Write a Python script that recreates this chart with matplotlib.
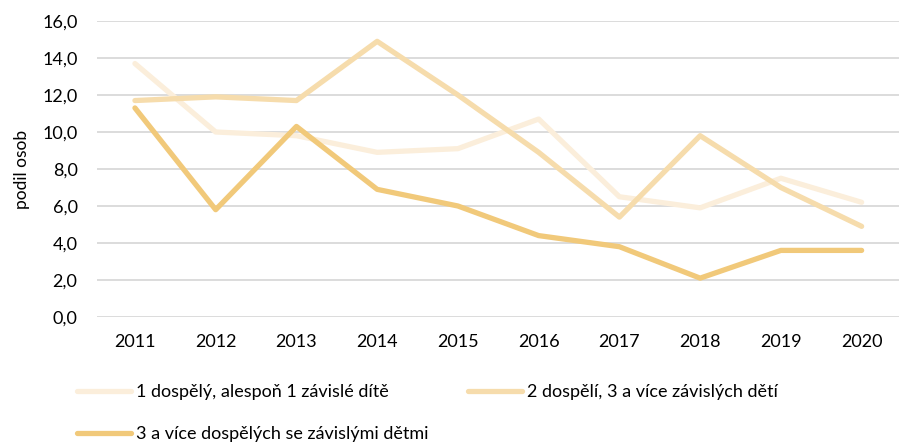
import matplotlib.pyplot as plt
import numpy as np
from matplotlib.ticker import FuncFormatter

plt.rcParams['font.family'] = ['Lato', 'DejaVu Sans']

years = ['2011', '2012', '2013', '2014', '2015', '2016', '2017', '2018', '2019', '2020']
single_adult = [13.7, 10.0, 9.8, 8.9, 9.1, 10.7, 6.5, 5.9, 7.5, 6.2]
two_adults = [11.7, 11.9, 11.7, 14.9, 12.0, 8.9, 5.4, 9.8, 7.0, 4.9]
three_adults = [11.3, 5.8, 10.3, 6.9, 6.0, 4.4, 3.8, 2.1, 3.6, 3.6]

labels = [
	'1 dospělý, alespoň 1 závislé dítě',
	'2 dospělí, 3 a více závislých dětí',
	'3 a více dospělých se závislými dětmi',
]
colors = ['#FBEEDB', '#F6DCAC', '#F1C97A']

fig = plt.figure(figsize=(8.99, 4.45), dpi=100)
ax = fig.add_axes([97 / 899, 1 - 317 / 445, (902 - 97) / 899, (317 - 21) / 445])

x = np.arange(len(years))
handles = []
for vals, col, lab in zip([single_adult, two_adults, three_adults], colors, labels):
	(h,) = ax.plot(x, vals, color=col, lw=3.8, solid_capstyle='round', solid_joinstyle='round', label=lab)
	handles.append(h)

ax.set_xlim(-0.47, 9.5)
ax.set_ylim(0, 16)
ax.set_yticks(np.arange(0, 17, 2))
ax.yaxis.set_major_formatter(FuncFormatter(lambda v, p: f'{v:.1f}'.replace('.', ',')))
ax.set_xticks(x)
ax.set_xticklabels(years)
ax.tick_params(axis='both', length=0, labelsize=13, colors='black')
ax.tick_params(axis='y', pad=14)
ax.tick_params(axis='x', pad=12)
ax.grid(True, axis='y', color='#D9D9D9', lw=1.3)
ax.set_axisbelow(True)
for s in ax.spines.values():
	s.set_visible(False)
ax.set_ylabel('podil osob', fontsize=12.5, labelpad=9)

fig.legend(
	handles=[handles[0], handles[2], handles[1]],
	labels=[labels[0], labels[2], labels[1]],
	ncol=2,
	loc='upper left',
	bbox_to_anchor=(70 / 899, 1 - 377 / 445),
	frameon=False,
	fontsize=13,
	handlelength=3.0,
	handletextpad=0.25,
	labelspacing=1.45,
	columnspacing=2.2,
	borderaxespad=0,
)

fig.savefig('out.png', dpi=100)
